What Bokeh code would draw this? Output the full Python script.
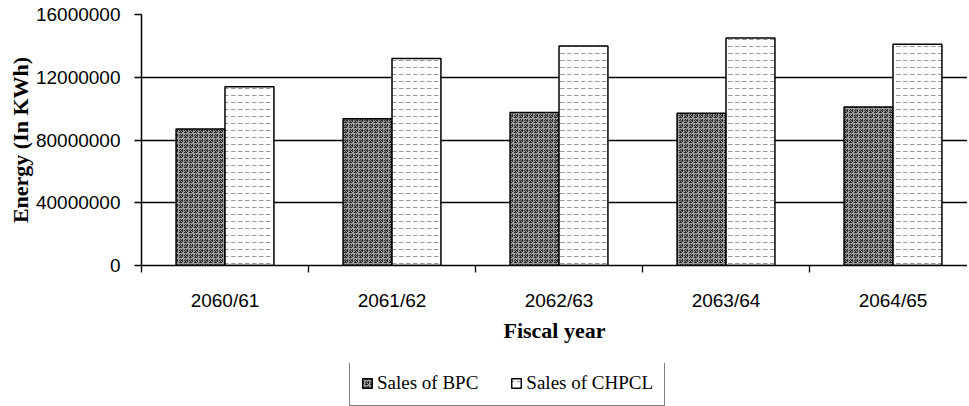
import numpy as np
from bokeh.plotting import figure
from bokeh.layouts import column
from bokeh.models import ColumnDataSource, FixedTicker, Legend, LegendItem, Range1d
from bokeh.transform import dodge
from bokeh.embed import file_html
from bokeh.resources import INLINE

years = ["2060/61", "2061/62", "2062/63", "2063/64", "2064/65"]
sales_bpc = [87000000, 93500000, 97500000, 97000000, 101000000]
sales_chpcl = [114000000, 132000000, 140000000, 145000000, 141000000]
y_ticks = [0, 40000000, 80000000, 120000000, 160000000]
y_tick_labels = ["0", "40000000", "80000000", "12000000", "16000000"]

xc = list(np.arange(len(years)) + 0.5)
src = ColumnDataSource(dict(x=xc, bpc=sales_bpc, chpcl=sales_chpcl))

W = 967
LB = 141
x_end = (W - LB) / 167.0
p = figure(width=W, height=363, output_backend="svg", toolbar_location=None,
           x_range=Range1d(0, x_end), y_range=Range1d(0, 160000000),
           min_border_left=LB, min_border_right=0, min_border_top=14,
           min_border_bottom=98)
p.outline_line_color = None
p.background_fill_color = "white"
p.border_fill_color = "white"

bw = 0.293
bpc_style = dict(fill_color="#2a2a2a", hatch_pattern="criss_cross", hatch_color="#9a9a9a",
                 hatch_scale=5, hatch_weight=1, line_color="black", line_width=1.5)
chpcl_style = dict(fill_color="white", hatch_pattern='"', hatch_color="#999999",
                   hatch_scale=7, hatch_weight=1, line_color="black", line_width=1.5)
r1 = p.vbar(x=dodge("x", -bw / 2), top="bpc", width=bw, source=src, **bpc_style)
r2 = p.vbar(x=dodge("x", bw / 2), top="chpcl", width=bw, source=src, **chpcl_style)

# y axis
p.yaxis.ticker = FixedTicker(ticks=y_ticks)
p.yaxis.major_label_overrides = {float(t): l for t, l in zip(y_ticks, y_tick_labels)}
p.yaxis.major_label_text_font = "Liberation Sans"
p.yaxis.major_label_text_font_size = "19px"
p.yaxis.major_label_text_color = "black"
p.yaxis.major_tick_out = 7
p.yaxis.major_tick_in = 0
p.yaxis.minor_tick_line_color = None
p.yaxis.major_label_standoff = 14
p.yaxis.axis_label = "Energy (In KWh)"
p.yaxis.axis_label_text_font = "Liberation Serif"
p.yaxis.axis_label_text_font_style = "bold"
p.yaxis.axis_label_text_font_size = "22px"
p.yaxis.axis_label_text_color = "black"
p.yaxis.axis_label_standoff = 0
p.yaxis.axis_line_color = "black"
p.yaxis.axis_line_width = 1.5
p.yaxis.major_tick_line_color = "black"
p.yaxis.major_tick_line_width = 1.3

# x axis
p.xaxis.ticker = FixedTicker(ticks=xc, minor_ticks=list(range(len(years) + 1)))
p.xaxis.major_label_overrides = {float(x): y for x, y in zip(xc, years)}
p.xaxis.major_tick_line_color = None
p.xaxis.major_tick_out = 0
p.xaxis.major_tick_in = 0
p.xaxis.minor_tick_out = 7
p.xaxis.minor_tick_in = 0
p.xaxis.minor_tick_line_color = "black"
p.xaxis.minor_tick_line_width = 1.3
p.xaxis.major_label_text_font = "Liberation Sans"
p.xaxis.major_label_text_font_size = "19px"
p.xaxis.major_label_text_color = "black"
p.xaxis.major_label_standoff = 17
p.xaxis.axis_label = "Fiscal year"
p.xaxis.axis_label_text_font = "Liberation Serif"
p.xaxis.axis_label_text_font_style = "bold"
p.xaxis.axis_label_text_font_size = "22px"
p.xaxis.axis_label_text_color = "black"
p.xaxis.axis_label_standoff = 4
p.xaxis.axis_line_color = "black"
p.xaxis.axis_line_width = 1.5

p.xgrid.grid_line_color = None
p.ygrid.grid_line_color = "black"
p.ygrid.grid_line_width = 1.3
p.ygrid.ticker = FixedTicker(ticks=y_ticks)

# legend strip below the chart (its bar renderers are hidden; only the legend shows)
pl = figure(width=W, height=43, output_backend="svg", toolbar_location=None,
            x_range=Range1d(0, x_end), y_range=Range1d(0, 160000000),
            min_border=0, min_border_left=LB, min_border_right=0,
            min_border_top=0, min_border_bottom=0)
pl.axis.visible = False
pl.grid.visible = False
pl.outline_line_color = None
pl.border_fill_color = "white"
l1 = pl.vbar(x=dodge("x", -bw / 2), top="bpc", width=bw, source=src, visible=False, **bpc_style)
l2 = pl.vbar(x=dodge("x", bw / 2), top="chpcl", width=bw, source=src, visible=False, **chpcl_style)

legend = Legend(items=[LegendItem(label="Sales of BPC", renderers=[l1]),
                       LegendItem(label="Sales of CHPCL", renderers=[l2])],
                orientation="horizontal", location=(208, 0), margin=0,
                glyph_width=12, glyph_height=12, label_standoff=4, spacing=32,
                padding=11, label_height=19,
                label_text_font="Liberation Serif", label_text_font_size="19px",
                label_text_color="black", inactive_fill_alpha=0,
                border_line_color="black", border_line_width=1.2,
                background_fill_alpha=1, background_fill_color="white")
pl.add_layout(legend, "center")

layout = column(p, pl, spacing=0)
open("out.html", "w").write(file_html(layout, INLINE))
